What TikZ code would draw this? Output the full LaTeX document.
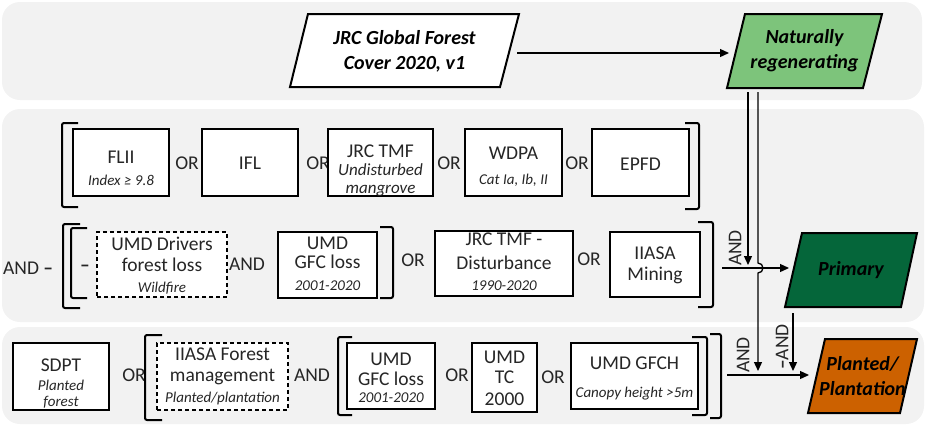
\documentclass[tikz,border=0pt]{standalone}
\usepackage{fontspec}
\setmainfont{Carlito}
\usetikzlibrary{arrows.meta}
\definecolor{band}{HTML}{F2F2F2}
\definecolor{txt}{HTML}{262626}
\definecolor{natgreen}{HTML}{7DC47B}
\definecolor{primgreen}{HTML}{05663A}
\definecolor{plantorange}{HTML}{CC6100}
\newcommand\mainsz{\fontsize{19.5}{21.5}\selectfont}
\newcommand\subsz{\fontsize{15}{17}\selectfont\itshape}
\newcommand\subbig{\fontsize{17}{19}\selectfont\itshape}
\newcommand\bigsz{\fontsize{20}{25}\selectfont\bfseries\itshape}
\begin{document}
\begin{tikzpicture}[x=1pt,y=-1pt,
  bandbox/.style={fill=band, draw=none, rounded corners=18pt},
  srcbox/.style={draw=black, line width=1.3pt, fill=white, inner sep=0pt},
  dashbox/.style={srcbox, dash pattern=on 4pt off 3pt},
  ml/.style={text=txt, font=\mainsz, anchor=base, yshift=-6.5pt, inner sep=0pt},
  cl/.style={text=txt, font=\mainsz, anchor=base, yshift=-6.3pt, inner sep=0pt},
  sl/.style={text=txt, font=\subsz, anchor=base, yshift=-5pt, inner sep=0pt},
  slb/.style={text=txt, font=\subbig, anchor=base, yshift=-5.5pt, inner sep=0pt},
  op/.style={text=txt, font=\mainsz, inner sep=1pt},
  brk/.style={line width=2pt, rounded corners=2pt},
  para/.style={line width=2pt, draw=black},
  flow/.style={line width=1.3pt, -{Triangle[length=9pt,width=8pt]}},
  classlbl/.style={font=\bigsz, align=center, text=black, inner sep=0pt}]
\useasboundingbox (0,0) rectangle (925,426);
% bands
\fill[bandbox] (2,2) rectangle (922,100);
\fill[bandbox] (2,109) rectangle (924,322);
\fill[bandbox] (2,327) rectangle (924,424);

% parallelograms
\draw[para, fill=white] (308,14) -- (519,14) -- (500,87) -- (290,87) -- cycle;
\node[classlbl] (jrc) at (404.5,51) {JRC Global Forest\\Cover 2020, v1};
\draw[para, fill=natgreen] (745,14) -- (882,14) -- (863,88) -- (727,88) -- cycle;
\node[classlbl] (natreg) at (804.5,51) {Naturally\\regenerating};
\draw[para, fill=primgreen] (802,233) -- (917,233) -- (901,307) -- (785,307) -- cycle;
\node[classlbl] (primary) at (851,270) {Primary};
\draw[para, fill=plantorange] (825,339) -- (917,339) -- (900,413) -- (808,413) -- cycle;
\node[classlbl] (planted) at (862.5,376) {Planted/\\Plantation};

% row 1
\node[srcbox, minimum width=96pt, minimum height=67pt] (flii) at (121,162.5) {};
\node[cl] (flii-a) at (121,157.5) {FLII};
\node[sl] (flii-b) at (121,180.5) {Index ≥ 9.8};
\node[op] (or1) at (187,163) {OR};
\node[srcbox, minimum width=96pt, minimum height=67pt] (ifl) at (250,162.5) {};
\node[cl] (ifl-a) at (250,163) {IFL};
\node[op] (or2) at (318,163) {OR};
\node[srcbox, minimum width=105pt, minimum height=67pt] (jrctmf) at (380.5,162.5) {};
\node[cl] (jrctmf-a) at (380.5,151) {JRC TMF};
\node[slb] (jrctmf-b) at (380.5,169.5) {Undisturbed};
\node[slb] (jrctmf-c) at (380.5,188) {mangrove};
\node[op] (or3) at (449,163) {OR};
\node[srcbox, minimum width=97pt, minimum height=67pt] (wdpa) at (513.5,162.5) {};
\node[cl] (wdpa-a) at (513.5,153) {WDPA};
\node[sl] (wdpa-b) at (513.5,179.5) {Cat Ia, Ib, II};
\node[op] (or4) at (577,163) {OR};
\node[srcbox, minimum width=97pt, minimum height=67pt] (epfd) at (640.5,162.5) {};
\node[cl] (epfd-a) at (640.5,164) {EPFD};
\draw[brk] (78,123) -- (62,123) -- (62,207) -- (78,207);
\draw[brk] (685,123) -- (699,123) -- (699,209) -- (685,209);

% row 2
\node[op, anchor=west] (and0) at (2,268) {AND \textbf{–}};
\draw[brk] (80,224) -- (63,224) -- (63,308) -- (80,308);
\draw[brk] (87,228) -- (71,228) -- (71,298) -- (87,298);
\node[op] (neg1) at (85,268) {\textbf{–}};
\node[dashbox, minimum width=130pt, minimum height=65pt] (umddrv) at (162,264.5) {};
\node[ml] (umddrv-a) at (162,243.5) {UMD Drivers};
\node[ml] (umddrv-b) at (162,265) {forest loss};
\node[sl] (umddrv-c) at (162,287) {Wildfire};
\node[op] (and1) at (247,264) {AND};
\node[srcbox, minimum width=99pt, minimum height=66pt] (umdgfc) at (327.5,265) {};
\node[cl] (umdgfc-a) at (327.5,243) {UMD};
\node[ml] (umdgfc-b) at (327.5,262) {GFC loss};
\node[sl] (umdgfc-c) at (327.5,285) {2001-2020};
\draw[brk] (380,227) -- (393,227) -- (393,298) -- (380,298);
\node[op] (or5) at (413,260) {OR};
\node[srcbox, minimum width=138pt, minimum height=65pt] (jrcdist) at (504,263.5) {};
\node[cl] (jrcdist-a) at (504,239.5) {JRC TMF -};
\node[ml] (jrcdist-b) at (504,263) {Disturbance};
\node[sl] (jrcdist-c) at (504,285) {1990-2020};
\node[op] (or6) at (589,259) {OR};
\node[srcbox, minimum width=90pt, minimum height=65pt] (iiasa) at (655,264.5) {};
\node[cl] (iiasa-a) at (655,253.5) {IIASA};
\node[ml] (iiasa-b) at (655,274) {Mining};
\draw[brk] (698,222) -- (713,222) -- (713,307) -- (698,307);

% row 3
\node[srcbox, minimum width=96pt, minimum height=67pt] (sdpt) at (61,376.5) {};
\node[cl] (sdpt-a) at (61,365) {SDPT};
\node[sl] (sdpt-b) at (61,385) {Planted};
\node[sl] (sdpt-c) at (61,401.5) {forest};
\node[op] (or7) at (134,375) {OR};
\draw[brk] (162,335) -- (145,335) -- (145,420) -- (162,420);
\node[dashbox, minimum width=131pt, minimum height=67pt] (iiasafm) at (222.5,376.5) {};
\node[ml] (iiasafm-a) at (222.5,353.5) {IIASA Forest};
\node[ml] (iiasafm-b) at (222.5,375) {management};
\node[sl] (iiasafm-c) at (222.5,397) {Planted/plantation};
\node[op] (and2) at (312,375) {AND};
\draw[brk] (352,337) -- (338,337) -- (338,415) -- (352,415);
\node[srcbox, minimum width=88pt, minimum height=66pt] (umdgfc2) at (391,376) {};
\node[cl] (umdgfc2-a) at (391,359.5) {UMD};
\node[ml] (umdgfc2-b) at (391,378.5) {GFC loss};
\node[sl] (umdgfc2-c) at (391,397.5) {2001-2020};
\node[op] (or8) at (457,375) {OR};
\node[srcbox, minimum width=65pt, minimum height=69pt] (umdtc) at (504.5,377.5) {};
\node[cl] (umdtc-a) at (504.5,357) {UMD};
\node[cl] (umdtc-b) at (504.5,377.5) {TC};
\node[cl] (umdtc-c) at (504.5,399.5) {2000};
\node[op] (or9) at (553,377) {OR};
\node[srcbox, minimum width=127pt, minimum height=66pt] (umdgfch) at (634.5,376) {};
\node[cl] (umdgfch-a) at (634.5,363.5) {UMD GFCH};
\node[sl] (umdgfch-b) at (634.5,392) {Canopy height >5m};
\draw[brk] (692,337) -- (707,337) -- (707,415) -- (692,415);
\draw[brk] (710,334) -- (721,334) -- (721,418) -- (710,418);

% connectors
\coordinate (jrcout) at (517,53);
\coordinate (natin) at (729,53);
\coordinate (natoutA) at (748,92);
\coordinate (natoutB) at (758,92);
\coordinate (row2out) at (722,268);
\coordinate (primin) at (789,268);
\coordinate (andA) at (748,265);
\coordinate (row3out) at (727,375);
\coordinate (plantin) at (809,375);
\coordinate (andB) at (758,371);
\coordinate (primout) at (793,313);
\coordinate (andC) at (793,371);

\draw[flow] (jrcout) -- (natin);
\draw[flow] (natoutA) -- (andA);
\draw[flow] (row2out) -- (primin);
\draw[flow] (natoutB) -- (758,263) arc[start angle=-90, end angle=90, radius=5] -- (andB);
\draw[flow] (row3out) -- (plantin);
\draw[flow] (primout) -- (andC);

\node[op, rotate=90] (andlblA) at (735,248) {AND};
\node[op, rotate=90] (andlblB) at (743,355) {AND};
\node[op, rotate=90] (andlblC) at (782,347) {\textbf{–}AND};
\end{tikzpicture}
\end{document}
